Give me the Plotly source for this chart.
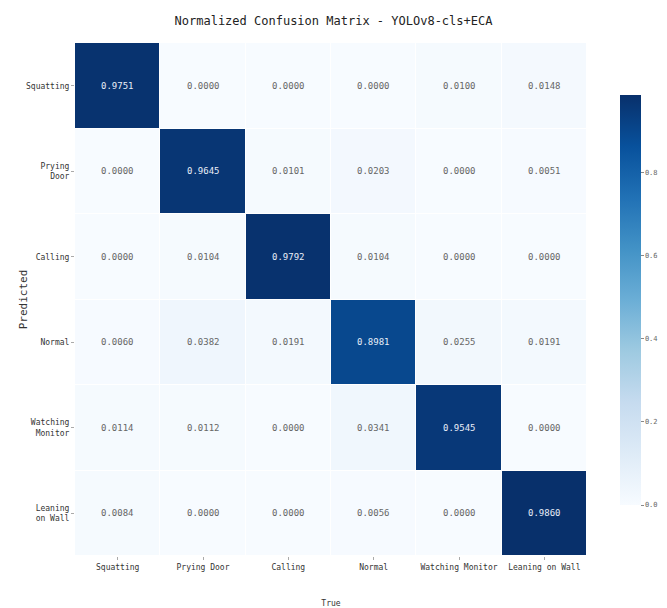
import plotly.graph_objects as go

# Class names (true labels on x, predicted labels on y)
classes_true = ["Squatting", "Prying Door", "Calling", "Normal", "Watching Monitor", "Leaning on Wall"]
classes_pred = ["Squatting", "Prying<br>Door", "Calling", "Normal", "Watching<br>Monitor", "Leaning<br>on Wall"]

# Normalized confusion matrix, one list per predicted class
row_squatting = [0.9751, 0.0000, 0.0000, 0.0000, 0.0100, 0.0148]
row_prying_door = [0.0000, 0.9645, 0.0101, 0.0203, 0.0000, 0.0051]
row_calling = [0.0000, 0.0104, 0.9792, 0.0104, 0.0000, 0.0000]
row_normal = [0.0060, 0.0382, 0.0191, 0.8981, 0.0255, 0.0191]
row_watching_monitor = [0.0114, 0.0112, 0.0000, 0.0341, 0.9545, 0.0000]
row_leaning_on_wall = [0.0084, 0.0000, 0.0000, 0.0056, 0.0000, 0.9860]

cbar_ticks = [0.0, 0.2, 0.4, 0.6, 0.8]

z = [row_squatting, row_prying_door, row_calling, row_normal,
     row_watching_monitor, row_leaning_on_wall]
zmax = max(max(r) for r in z)

mono = "DejaVu Sans Mono"

fig = go.Figure()
fig.add_trace(go.Heatmap(
    z=z,
    x=classes_true,
    y=classes_pred,
    colorscale="Blues",
    zmin=0,
    zmax=zmax,
    xgap=1,
    ygap=1,
    showscale=True,
    colorbar=dict(
        x=1.064, xanchor="left", xpad=0,
        y=0.499, yanchor="middle", ypad=0,
        len=0.80, lenmode="fraction",
        thickness=21,
        outlinewidth=0,
        tickvals=cbar_ticks,
        ticktext=[f"{t:.1f}" for t in cbar_ticks],
        ticks="outside", ticklen=3, tickcolor="#888",
        tickfont=dict(family=mono, size=7, color="#666"),
    ),
    hoverinfo="skip",
))

# Value labels, white on dark cells and gray on light ones
for i, row in enumerate(z):
    for j, v in enumerate(row):
        fig.add_annotation(
            x=classes_true[j], y=classes_pred[i],
            text=f"{v:.4f}",
            showarrow=False,
            font=dict(family=mono, size=9,
                      color="#e8eef8" if v > 0.5 else "#666"),
        )

# Y-axis title, placed just left of the tick labels
fig.add_annotation(
    xref="paper", yref="paper",
    x=-0.10, y=0.5, xanchor="center", yanchor="middle",
    text="Predicted", textangle=-90, showarrow=False,
    font=dict(family=mono, size=11, color="#333"),
)

fig.update_layout(
    width=667, height=608,
    margin=dict(l=75, r=80, t=43, b=52, autoexpand=False),
    paper_bgcolor="white",
    plot_bgcolor="white",
    title=dict(
        text="Normalized Confusion Matrix - YOLOv8-cls+ECA",
        x=0.5, xanchor="center",
        y=1 - 21 / 608, yanchor="middle",
        font=dict(family=mono, size=12, color="#222"),
    ),
    xaxis=dict(
        title=dict(text="True", font=dict(family=mono, size=8, color="#333"), standoff=32),
        tickfont=dict(family=mono, size=8, color="#333"),
        ticks="outside", ticklen=3, tickcolor="#aaa",
        showgrid=False, zeroline=False,
        automargin=False,
    ),
    yaxis=dict(
        tickfont=dict(family=mono, size=8, color="#333"),
        ticks="outside", ticklen=3, tickcolor="#aaa",
        autorange="reversed",
        showgrid=False, zeroline=False,
        automargin=False,
    ),
)

fig.write_html("out.html")
